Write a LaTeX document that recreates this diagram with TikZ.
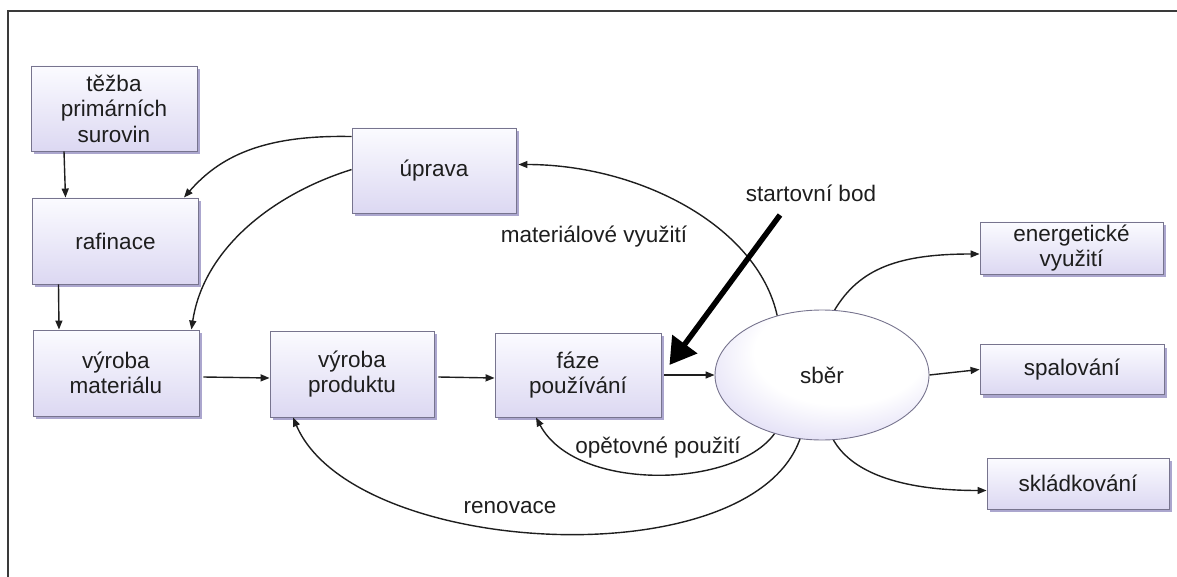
\documentclass[tikz,border=0pt]{standalone}
\usepackage{fontspec}
\setmainfont{Liberation Sans}
\usetikzlibrary{shapes.geometric,arrows.meta,shadows}

\definecolor{framec}{HTML}{3A3A3A}
\definecolor{boxline}{HTML}{77748E}
\definecolor{boxtop}{HTML}{FBFBFF}
\definecolor{boxbot}{HTML}{DCD8F2}
\definecolor{boxshade}{HTML}{8F88BE}
\definecolor{ellmid}{HTML}{DDD9F4}
\definecolor{ellout}{HTML}{A8A0DA}
\definecolor{inkc}{HTML}{1E1E1E}

% soft glow for the collection ellipse: white centre, lavender rim, darker below
\pgfdeclareradialshading{sberglow}{\pgfpoint{6bp}{12bp}}{%
  color(0bp)=(white); color(20bp)=(white); color(36bp)=(ellmid); color(58bp)=(ellout); color(70bp)=(ellout)}

\tikzset{
  proc/.style={draw=boxline, line width=0.9pt, top color=boxtop, bottom color=boxbot,
    drop shadow={shadow xshift=2.5pt, shadow yshift=-3pt, fill=boxshade, opacity=0.75},
    align=center, inner sep=0pt, text=inkc,
    font=\fontsize{22.5}{25.5}\selectfont},
  collect/.style={ellipse, draw=boxline, line width=0.9pt, shading=sberglow,
    minimum width=214pt, minimum height=130pt, inner sep=0pt, text=inkc,
    font=\fontsize{22.5}{25.5}\selectfont},
  flow/.style={draw=inkc, line width=1.4pt, -{Triangle[length=9pt,width=7pt]}},
  startarrow/.style={draw=black, line width=5.5pt, -{Triangle[length=26pt,width=30pt]}},
  lbl/.style={text=inkc, inner sep=0pt, font=\fontsize{22.5}{25.5}\selectfont}
}

\begin{document}
\begin{tikzpicture}[x=1pt,y=-1pt]
  \useasboundingbox (0,0) rectangle (1177,577);

  % outer frame: top and left rules only
  \draw[framec, line width=2pt] (8,577) -- (8,11) -- (1177,11);

  % process boxes
  \node[proc, minimum width=166pt, minimum height=85pt] (tezba) at (114,108.5) {těžba\\primárních\\surovin};
  \node[proc, minimum width=166pt, minimum height=86pt] (raf) at (115.5,241) {rafinace};
  \node[proc, minimum width=166pt, minimum height=86pt] (vmat) at (116,373) {výroba\\materiálu};
  \node[proc, minimum width=164pt, minimum height=86pt] (vprod) at (352,374) {výroba\\produktu};
  \node[proc, minimum width=166pt, minimum height=84pt] (faze) at (578,375) {fáze\\používání};
  \node[proc, minimum width=164pt, minimum height=85pt] (uprava) at (434,170.5) {úprava};
  \node[collect] (sber) at (822,375) {sběr};
  \node[proc, minimum width=183pt, minimum height=52pt] (energ) at (1071.5,248) {energetické\\využití};
  \node[proc, minimum width=184pt, minimum height=50pt] (spal) at (1072,369.5) {spalování};
  \node[proc, minimum width=182pt, minimum height=51pt] (sklad) at (1078,483.5) {skládkování};

  % labels
  \node[lbl] (lmat) at (594,237) {materiálové využití};
  \node[lbl] (lstart) at (811,193) {startovní bod};
  \node[lbl] (lopet) at (658,448) {opětovné použití};
  \node[lbl] (lrenov) at (510,508) {renovace};

  % main chain
  \draw[flow] ([xshift=-50pt]tezba.south) -- ([xshift=-50pt]raf.north);
  \draw[flow] ([xshift=-57pt]raf.south) -- ([xshift=-57pt]vmat.north);
  \draw[flow] ([xshift=4pt,yshift=-4pt]vmat.east) -- ([yshift=-4pt]vprod.west);
  \draw[flow] ([xshift=4pt,yshift=-3pt]vprod.east) -- ([yshift=-3pt]faze.west);
  \draw[flow] ([xshift=3pt]faze.east) -- (sber.west);

  % recycling loops back from the treatment box
  \draw[flow] ([yshift=-9pt]uprava.north west) .. controls +(-90,-2) and +(35,-40) .. ([xshift=-15pt]raf.north east);
  \draw[flow] ([yshift=-42pt]uprava.north west) .. controls +(-80,25) and +(12,-80) .. ([xshift=-8pt]vmat.north east);

  % outputs of the collection node
  \draw[flow] (sber.127) .. controls +(-20,-90) and +(120,0) .. ([xshift=2pt,yshift=6pt]uprava.east);
  \draw[flow] (sber.231) .. controls +(-40,55) and +(40,75) .. ([xshift=-42pt]faze.south);
  \draw[flow] (sber.251) .. controls +(-50,140) and +(60,140) .. ([xshift=-59pt]vprod.south);
  \draw[flow] (sber.79) .. controls +(25,-42) and +(-80,0) .. ([yshift=-6pt]energ.west);
  \draw[flow] (sber.east) -- (spal.west);
  \draw[flow] (sber.-80) .. controls +(20,35) and +(-80,0) .. ([yshift=-7pt]sklad.west);

  % starting point
  \coordinate (sb) at (780,215);
  \draw[startarrow] (sb) -- ([xshift=8pt,yshift=10pt]faze.east);
\end{tikzpicture}
\end{document}
